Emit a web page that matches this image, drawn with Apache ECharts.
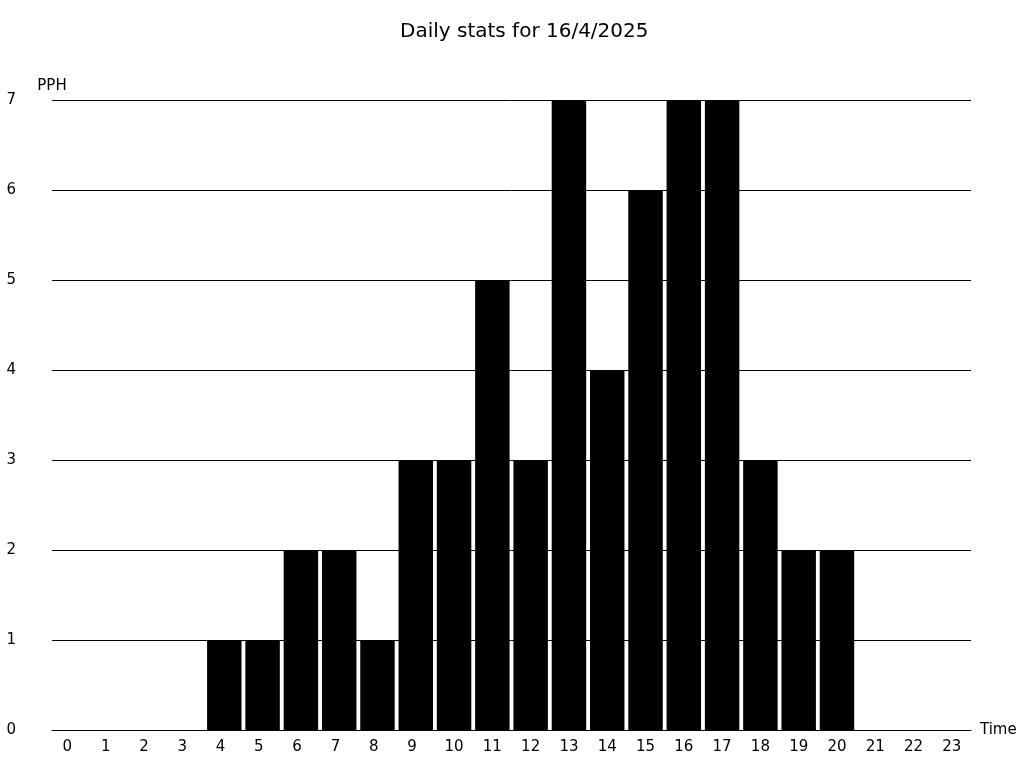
<!DOCTYPE html>
<html><head><meta charset="utf-8">
<script src="https://cdn.jsdelivr.net/npm/echarts@6/dist/echarts.min.js"></script>
<style>html,body{margin:0;padding:0;background:#fff}#c{width:1024px;height:768px}</style>
</head><body><div id="c"></div>
<script>
const categories = ['0','1','2','3','4','5','6','7','8','9','10','11','12','13','14','15','16','17','18','19','20','21','22','23'];
const values = [0,0,0,0,1,1,2,2,1,3,3,5,3,7,4,6,7,7,3,2,2,0,0,0];
const chart = echarts.init(document.getElementById('c'));
const font = 'DejaVu Sans';
chart.setOption({
  animation: false,
  backgroundColor: '#fff',
  title: { text: 'Daily stats for 16/4/2025', left: 395, top: 17,
    textStyle: { fontFamily: font, fontSize: 20, fontWeight: 'normal', color: '#000' } },
  grid: { left: 52, right: 53, top: 100, bottom: 38, containLabel: false },
  xAxis: {
    type: 'category', data: categories, name: 'Time', nameGap: 9,
    nameTextStyle: { fontFamily: font, fontSize: 15, color: '#000', padding: [2, 0, 0, 0] },
    axisLine: { lineStyle: { color: '#000', width: 1 } },
    axisTick: { show: false },
    axisLabel: { fontFamily: font, fontSize: 15, color: '#000', margin: 10, interval: 0,
      formatter: v => v.length === 1 ? v + '\u2002' : v }
  },
  yAxis: {
    type: 'value', min: 0, max: 7, interval: 1, name: 'PPH', nameGap: 6,
    nameTextStyle: { fontFamily: font, fontSize: 15, color: '#000', align: 'center' },
    axisLine: { show: false }, axisTick: { show: false },
    axisLabel: { fontFamily: font, fontSize: 15, color: '#000', margin: 36, padding: [2, 0, 0, 0] },
    splitLine: { lineStyle: { color: '#000', width: 1 } }
  },
  series: [{ type: 'bar', data: values, barCategoryGap: '10%', itemStyle: { color: '#000' } }]
});
</script></body></html>
